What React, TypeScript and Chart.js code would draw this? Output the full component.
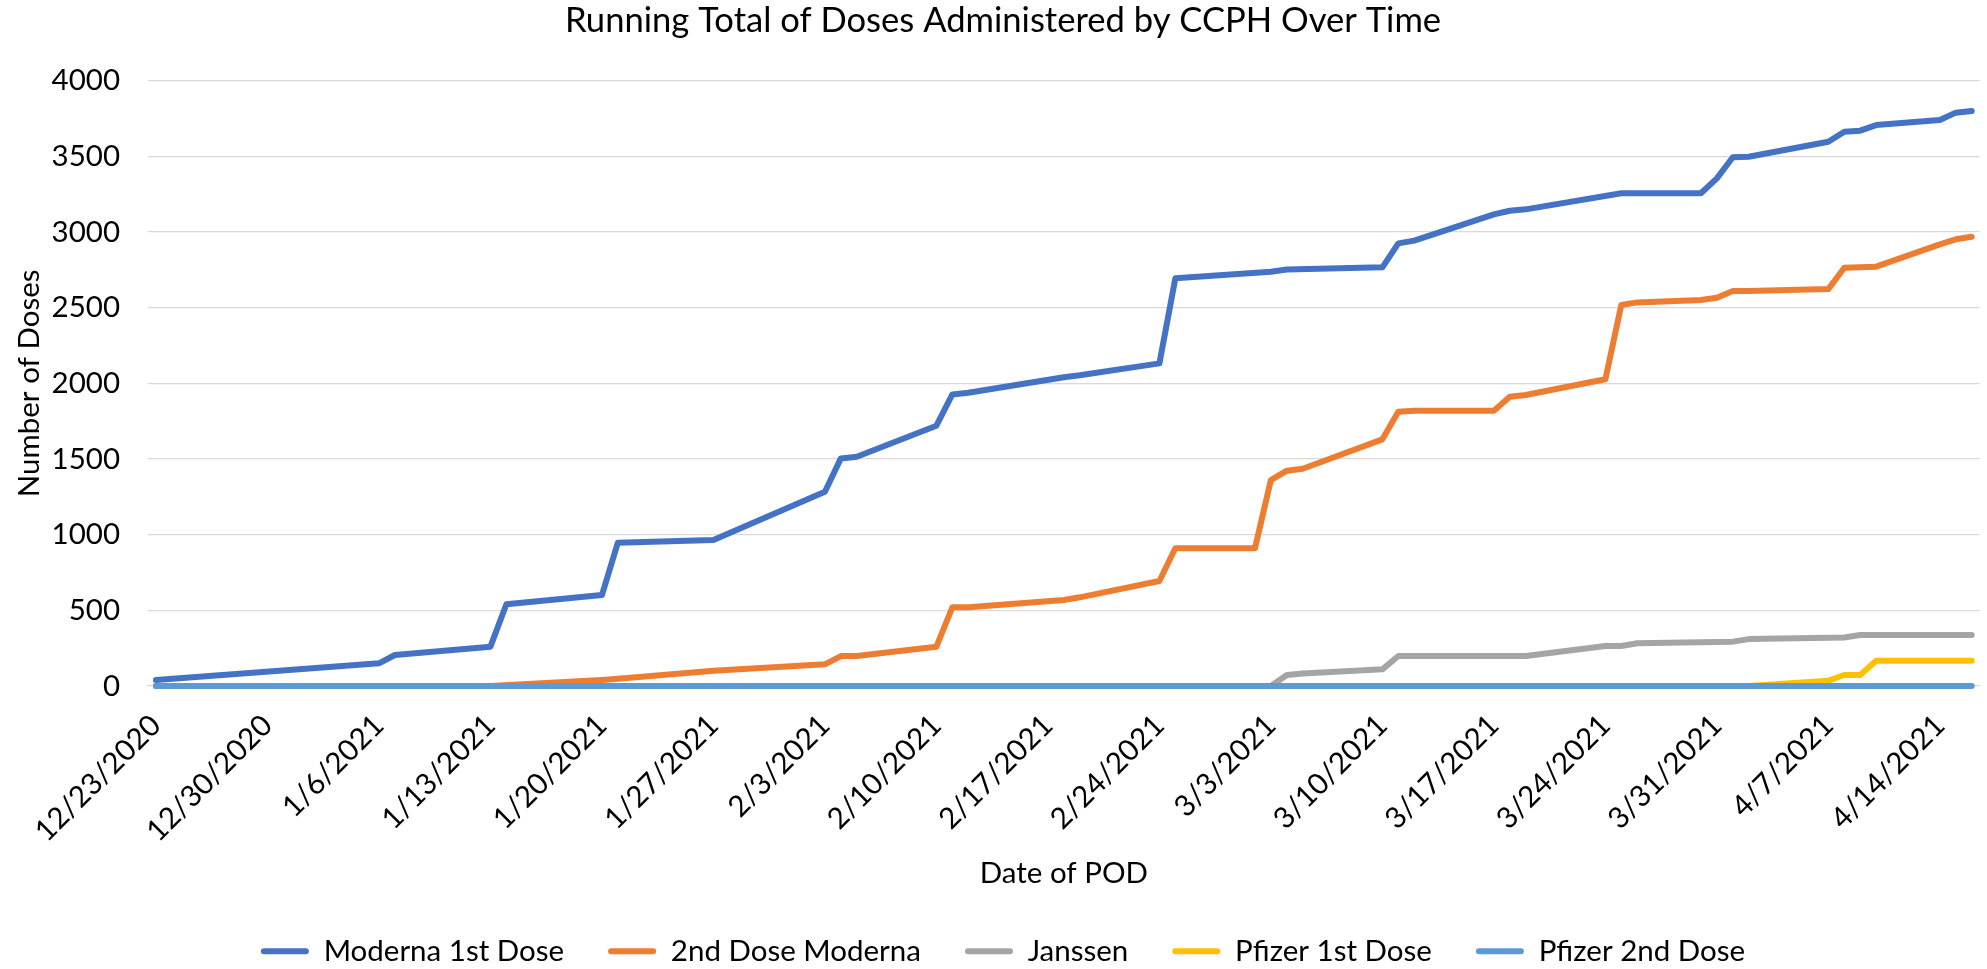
import React, { useEffect, useRef } from "react";
import { Chart, registerables } from "chart.js";

Chart.register(...registerables);

const chartTitle = "Running Total of Doses Administered by CCPH Over Time";
const xAxisTitle = "Date of POD";
const yAxisTitle = "Number of Doses";

const xTickLabels = [
  "12/23/2020", "12/30/2020", "1/6/2021", "1/13/2021", "1/20/2021", "1/27/2021",
  "2/3/2021", "2/10/2021", "2/17/2021", "2/24/2021", "3/3/2021", "3/10/2021",
  "3/17/2021", "3/24/2021", "3/31/2021", "4/7/2021", "4/14/2021",
];
const firstDate = "12/23/2020";
const lastDate = "4/16/2021";
const yMin = 0;
const yMax = 4000;
const yStep = 500;

const seriesLabels = ["Moderna 1st Dose", "2nd Dose Moderna", "Janssen", "Pfizer 1st Dose", "Pfizer 2nd Dose"];

const moderna1stDates = [
  "12/23/2020", "1/6/2021", "1/7/2021", "1/13/2021", "1/14/2021", "1/20/2021", "1/21/2021", "1/27/2021",
  "2/3/2021", "2/4/2021", "2/5/2021", "2/10/2021", "2/11/2021", "2/12/2021", "2/18/2021", "2/19/2021",
  "2/24/2021", "2/25/2021", "3/3/2021", "3/4/2021", "3/10/2021", "3/11/2021", "3/12/2021", "3/17/2021",
  "3/18/2021", "3/19/2021", "3/25/2021", "3/30/2021", "3/31/2021", "4/1/2021", "4/2/2021", "4/7/2021",
  "4/8/2021", "4/9/2021", "4/10/2021", "4/14/2021", "4/15/2021", "4/16/2021",
];
const moderna1stValues = [
  40, 150, 205, 260, 540, 601, 947, 965,
  1284, 1504, 1515, 1720, 1927, 1938, 2040, 2053,
  2132, 2694, 2738, 2753, 2767, 2925, 2943, 3117,
  3141, 3150, 3256, 3256, 3355, 3494, 3498, 3597,
  3663, 3670, 3707, 3740, 3789, 3800,
];

const moderna2ndDates = [
  "12/23/2020", "1/13/2021", "1/20/2021", "1/21/2021", "1/27/2021", "2/3/2021", "2/4/2021", "2/5/2021",
  "2/10/2021", "2/11/2021", "2/12/2021", "2/18/2021", "2/19/2021", "2/24/2021", "2/25/2021", "3/2/2021",
  "3/3/2021", "3/4/2021", "3/5/2021", "3/10/2021", "3/11/2021", "3/12/2021", "3/17/2021", "3/18/2021",
  "3/19/2021", "3/24/2021", "3/25/2021", "3/26/2021", "3/30/2021", "3/31/2021", "4/1/2021", "4/2/2021",
  "4/7/2021", "4/8/2021", "4/10/2021", "4/14/2021", "4/15/2021", "4/16/2021",
];
const moderna2ndValues = [
  0, 0, 40, 48, 101, 143, 198, 198,
  260, 520, 520, 568, 586, 694, 910, 910,
  1361, 1423, 1436, 1630, 1813, 1819, 1819, 1912,
  1923, 2027, 2518, 2535, 2551, 2566, 2610, 2610,
  2623, 2764, 2771, 2919, 2952, 2969,
];

const janssenDates = [
  "12/23/2020", "3/3/2021", "3/4/2021", "3/5/2021", "3/10/2021", "3/11/2021", "3/19/2021", "3/24/2021",
  "3/25/2021", "3/26/2021", "4/1/2021", "4/2/2021", "4/8/2021", "4/9/2021", "4/16/2021",
];
const janssenValues = [0, 0, 73, 82, 110, 198, 198, 264, 264, 282, 293, 310, 321, 337, 337];

const pfizer1stDates = ["12/23/2020", "4/2/2021", "4/7/2021", "4/8/2021", "4/9/2021", "4/10/2021", "4/16/2021"];
const pfizer1stValues = [0, 0, 35, 73, 73, 167, 167];

const pfizer2ndDates = ["12/23/2020", "4/16/2021"];
const pfizer2ndValues = [0, 0];

const seriesColors = ["#4472C4", "#ED7D31", "#A5A5A5", "#FFC000", "#5B9BD5"];

function dayOffset(label: string): number {
  const [m, d, y] = label.split("/").map(Number);
  const [m0, d0, y0] = firstDate.split("/").map(Number);
  return Math.round((Date.UTC(y, m - 1, d) - Date.UTC(y0, m0 - 1, d0)) / 86400000);
}

function toPoints(dates: string[], values: number[]) {
  return dates.map((d, i) => ({ x: dayOffset(d), y: values[i] }));
}

const seriesDates = [moderna1stDates, moderna2ndDates, janssenDates, pfizer1stDates, pfizer2ndDates];
const seriesValues = [moderna1stValues, moderna2ndValues, janssenValues, pfizer1stValues, pfizer2ndValues];

export default function App() {
  const ref = useRef<HTMLCanvasElement>(null);

  useEffect(() => {
    const canvas = ref.current;
    if (!canvas) return;
    const family = "Lato, 'Open Sans', sans-serif";
    Chart.defaults.font.family = family;
    const tickOffsets = xTickLabels.map(dayOffset);
    const n = seriesLabels.length;

    const chart = new Chart(canvas, {
      type: "line",
      data: {
        datasets: seriesLabels.map((label, i) => ({
          label,
          data: toPoints(seriesDates[i], seriesValues[i]),
          borderColor: seriesColors[i],
          backgroundColor: seriesColors[i],
          borderWidth: 6,
          pointRadius: 0,
          pointHoverRadius: 0,
          tension: 0,
          fill: false,
          spanGaps: true,
          clip: false,
          borderJoinStyle: "round",
          borderCapStyle: "round",
          order: n - i,
        })),
      },
      options: {
        responsive: false,
        animation: false,
        devicePixelRatio: 1,
        layout: { padding: { top: 0, left: 24, right: 5, bottom: -7 } },
        plugins: {
          title: {
            display: true,
            text: chartTitle,
            color: "#000",
            font: { size: 34.6, weight: "normal", family },
            padding: { top: 0.5, bottom: 38.7 },
          },
          legend: {
            position: "bottom",
            labels: {
              color: "#000",
              font: { size: 29.5, family },
              boxWidth: 48,
              boxHeight: 6,
              padding: 44,
              generateLabels: (c: any) =>
                Chart.defaults.plugins.legend.labels
                  .generateLabels(c)
                  .map((it: any) => ({ ...it, fillStyle: it.strokeStyle, lineWidth: 0, borderRadius: 3 })),
              sort: (a: any, b: any) => a.datasetIndex - b.datasetIndex,
            },
          },
          tooltip: { enabled: false },
        },
        scales: {
          x: {
            type: "linear",
            min: dayOffset(firstDate) - 0.5,
            max: dayOffset(lastDate) + 0.5,
            grid: { display: false, drawTicks: false },
            border: { display: true, color: "#D9D9D9", width: 1.3 },
            ticks: {
              autoSkip: false,
              minRotation: 45,
              maxRotation: 45,
              padding: 22,
              color: "#000",
              font: { size: 29.5, family },
              callback: (value: any) => {
                const i = tickOffsets.indexOf(Number(value));
                return i >= 0 ? xTickLabels[i] : "";
              },
            },
            afterBuildTicks: (scale: any) => {
              scale.ticks = tickOffsets.map((v) => ({ value: v }));
            },
            afterFit: (scale: any) => {
              scale.height = 206.5;
            },
            title: {
              display: true,
              text: xAxisTitle,
              color: "#000",
              font: { size: 29.5, family },
              padding: { top: 0, bottom: 1.8 },
            },
          },
          y: {
            min: yMin,
            max: yMax,
            ticks: {
              stepSize: yStep,
              padding: 28,
              color: "#000",
              font: { size: 29.5, family },
              callback: (value: any) => String(value),
            },
            grid: { color: "#D9D9D9", lineWidth: 1.3, drawTicks: false },
            border: { display: false },
            afterFit: (scale: any) => {
              scale.width = 124;
            },
            title: {
              display: true,
              text: yAxisTitle,
              color: "#000",
              font: { size: 29.5, family },
              padding: { top: -12.7, bottom: 0 },
            },
          },
        },
      },
    } as any);

    return () => chart.destroy();
  }, []);

  return (
    <div style={{ position: "fixed", left: 0, top: 0, width: 1987, height: 969, background: "#fff" }}>
      <canvas ref={ref} width={1987} height={969} style={{ width: 1987, height: 969, display: "block" }} />
    </div>
  );
}
